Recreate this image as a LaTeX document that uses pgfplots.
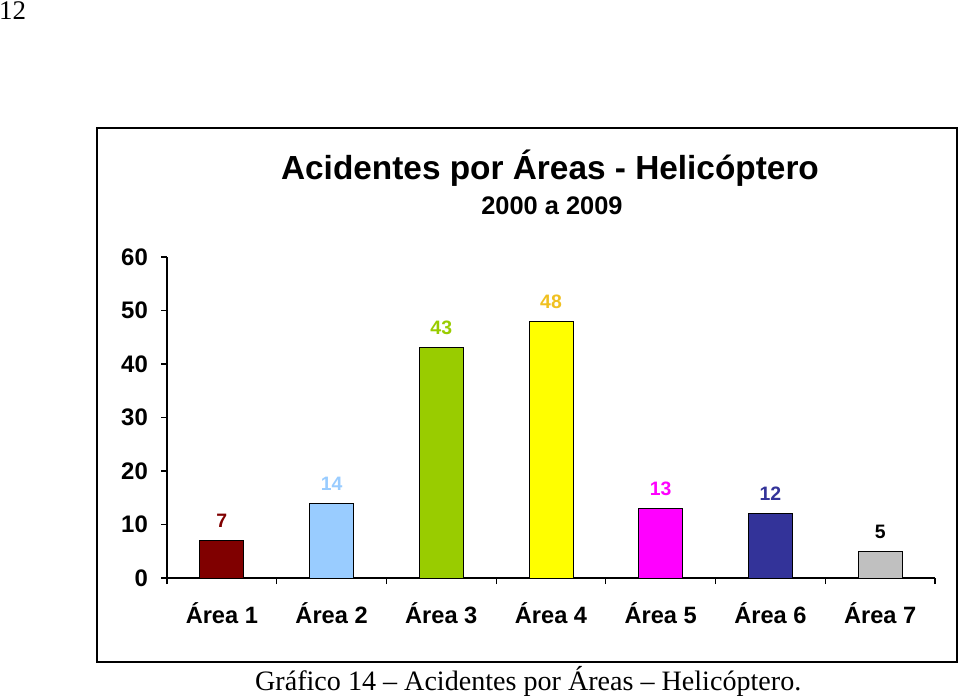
\documentclass[border=0pt]{standalone}
\usepackage{fontspec}
\setmainfont{Liberation Serif}
\newfontfamily\arial{Liberation Sans}
\usepackage{pgfplots}
\pgfplotsset{compat=1.18}
\definecolor{cA}{HTML}{800000}
\definecolor{cB}{HTML}{99CCFF}
\definecolor{cC}{HTML}{99CC00}
\definecolor{cD}{HTML}{FFFF00}
\definecolor{cDl}{HTML}{F0C020}
\definecolor{cE}{HTML}{FF00FF}
\definecolor{cF}{HTML}{333399}
\definecolor{cG}{HTML}{C0C0C0}
\begin{document}
\begin{tikzpicture}[x=1bp,y=1bp]
\useasboundingbox (0,0) rectangle (960,-700);
\draw[line width=2bp] (97,-128) rectangle (957,-662);
\node[anchor=base, inner sep=0, font=\arial\bfseries\fontsize{33.5}{33.5}\selectfont] at (550,-180) {Acidentes por Áreas - Helicóptero};
\node[anchor=base, inner sep=0, font=\arial\bfseries\fontsize{25.5}{25.5}\selectfont] at (552,-214) {2000 a 2009};
\node[anchor=base west, inner sep=0, font=\fontsize{28.2}{28.2}\selectfont] at (255,-690) {Gráfico 14 – Acidentes por Áreas – Helicóptero.};
\node[anchor=base west, inner sep=0, font=\fontsize{27}{27}\selectfont] at (-1,-20) {12};
\begin{axis}[
  at={(167bp,-578bp)}, anchor=south west,
  scale only axis, width=768bp, height=321bp,
  xmin=-0.5, xmax=6.5, ymin=0, ymax=60,
  axis x line*=bottom, axis y line*=left,
  axis line style={line width=1.5bp, -},
  /pgf/number format/assume math mode=true,
  tick align=outside, major tick length=6bp,
  tick style={line width=1.2bp, black},
  ytick={0,10,...,60},
  xtick={-0.5,0.5,...,6.5},
  xticklabels={Área 1,Área 2,Área 3,Área 4,Área 5,Área 6,Área 7,{}},
  xticklabel style={font=\arial\bfseries\fontsize{23.7}{23.7}\selectfont, xshift=54.857bp, anchor=north, inner sep=0, yshift=-18bp},
  yticklabel style={font=\arial\bfseries\fontsize{24}{24}\selectfont, anchor=east, inner sep=0, xshift=-13bp},
  nodes near coords,
  nodes near coords style={font=\arial\bfseries\fontsize{19.5}{19.5}\selectfont, anchor=south, inner sep=0, yshift=12.5bp},
  ybar, bar width=44bp,
]
\addplot[fill=cA, draw=black, line width=1bp, bar shift=0pt, nodes near coords style={text=cA}] coordinates {(0,7)};
\addplot[fill=cB, draw=black, line width=1bp, bar shift=0pt, nodes near coords style={text=cB}] coordinates {(1,14)};
\addplot[fill=cC, draw=black, line width=1bp, bar shift=0pt, nodes near coords style={text=cC}] coordinates {(2,43)};
\addplot[fill=cD, draw=black, line width=1bp, bar shift=0pt, nodes near coords style={text=cDl}] coordinates {(3,48)};
\addplot[fill=cE, draw=black, line width=1bp, bar shift=0pt, nodes near coords style={text=cE}] coordinates {(4,13)};
\addplot[fill=cF, draw=black, line width=1bp, bar shift=0pt, nodes near coords style={text=cF}] coordinates {(5,12)};
\addplot[fill=cG, draw=black, line width=1bp, bar shift=0pt, nodes near coords style={text=black}] coordinates {(6,5)};
\end{axis}
\end{tikzpicture}
\end{document}
